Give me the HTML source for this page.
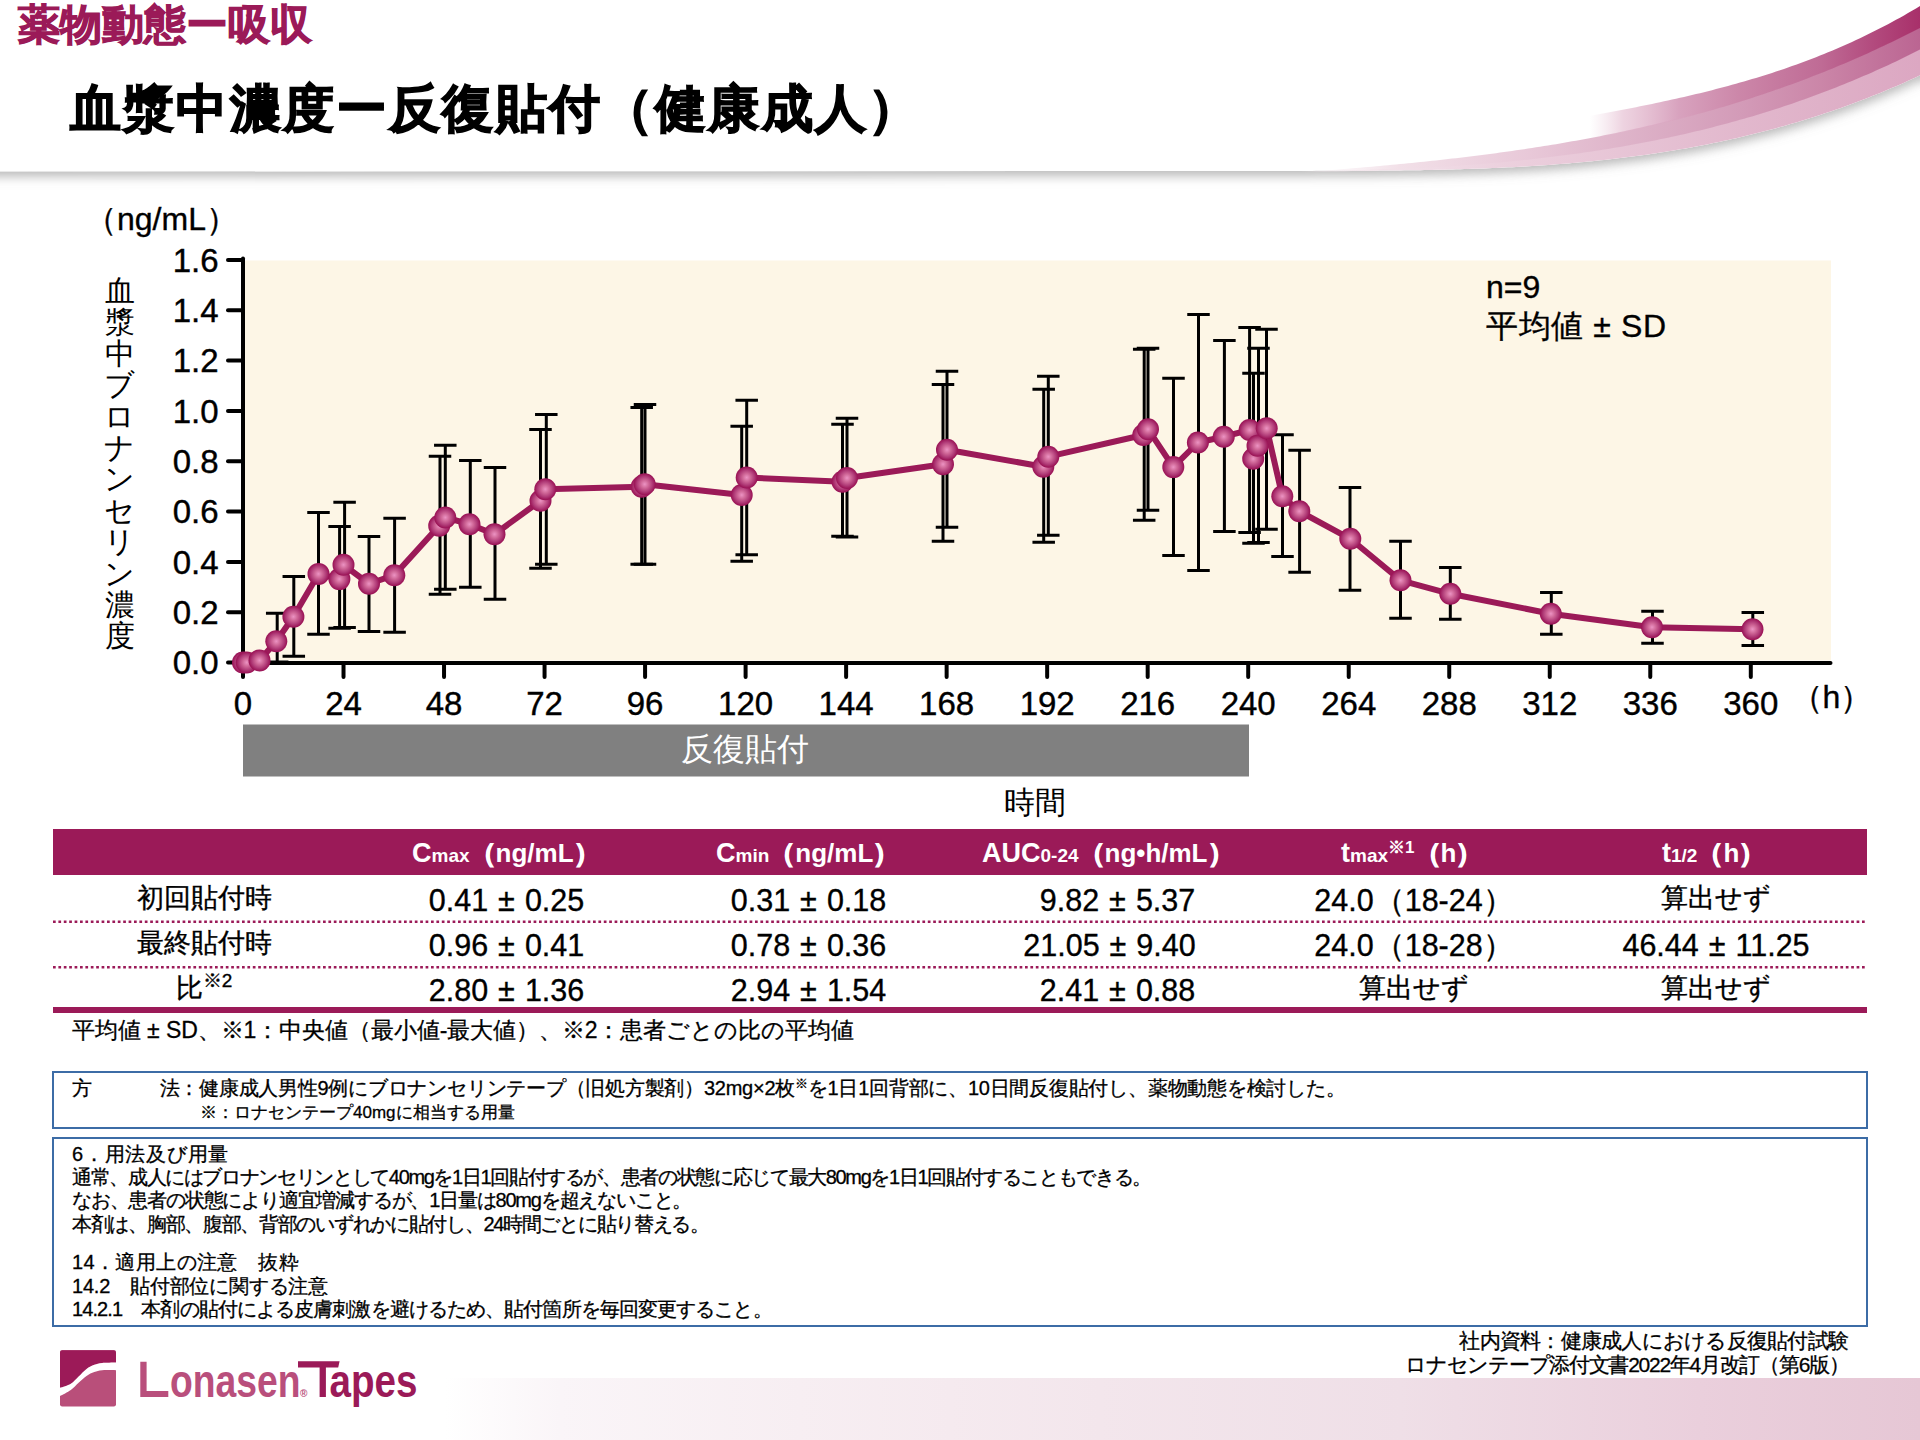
<!DOCTYPE html>
<html lang="ja">
<head>
<meta charset="utf-8">
<style>
html,body{margin:0;padding:0;}
body{width:1920px;height:1440px;position:relative;overflow:hidden;background:#fff;font-family:"Liberation Sans",sans-serif;color:#000;}
.a{position:absolute;white-space:nowrap;line-height:1;}
.t3{-webkit-text-stroke:0.3px #000;}
.hd{font-size:26px;}
.hd .big{font-size:27px;}
.hd .sm{font-size:19px;}
.hd .pp{-webkit-text-stroke:1.3px #fff;}
.hd sup{font-size:17px;vertical-align:9px;line-height:0;}
.cell{width:300px;text-align:center;font-size:30.5px;padding-top:1.5px;-webkit-text-stroke:0.35px #000;}
.cj{font-size:26.5px;padding-top:2px;}
.pm{margin:0 10px;}
.cell sup{font-size:19px;vertical-align:10px;line-height:0;}
sup.s2{font-size:13px;vertical-align:7px;line-height:0;}
.box{border:2px solid #3c6ca6;}
.vl span{display:block;height:31.4px;width:33px;text-align:center;font-size:30px;line-height:31.4px;}
</style>
</head>
<body>
<svg class="a" style="left:0;top:0" width="1920" height="210" viewBox="0 0 1920 210">
<defs><linearGradient id="g0" gradientUnits="userSpaceOnUse" x1="1590" y1="0" x2="1920" y2="0"><stop offset="0" stop-color="#e8c6d7" stop-opacity="0"/><stop offset="0.1" stop-color="#e2b6cc" stop-opacity="0.6"/><stop offset="0.27" stop-color="#d8a2be"/><stop offset="0.45" stop-color="#cc87a9"/><stop offset="0.7" stop-color="#bf6b95"/><stop offset="0.85" stop-color="#b34c7f"/><stop offset="1" stop-color="#a8306a"/></linearGradient><linearGradient id="g1" gradientUnits="userSpaceOnUse" x1="1300" y1="0" x2="1920" y2="0"><stop offset="0" stop-color="#f6e9ef" stop-opacity="0"/><stop offset="0.16" stop-color="#f2e0e8"/><stop offset="0.37" stop-color="#e8c8d8"/><stop offset="0.56" stop-color="#dcafc6"/><stop offset="0.71" stop-color="#d39bb8"/><stop offset="0.84" stop-color="#cb86a8"/><stop offset="1" stop-color="#bb6592"/></linearGradient><linearGradient id="g2" gradientUnits="userSpaceOnUse" x1="1300" y1="0" x2="1920" y2="0"><stop offset="0" stop-color="#f8eef3" stop-opacity="0"/><stop offset="0.13" stop-color="#f3e3eb"/><stop offset="0.32" stop-color="#ecd1de"/><stop offset="0.56" stop-color="#e6c2d4"/><stop offset="0.71" stop-color="#e2b8cd"/><stop offset="0.84" stop-color="#dfb1c8"/><stop offset="1" stop-color="#dca7c2"/></linearGradient><filter id="ds" x="-5%" y="-20%" width="110%" height="150%"><feDropShadow dx="0" dy="5" stdDeviation="5.5" flood-color="#808080" flood-opacity="0.55"/></filter></defs>
<path d="M-40 -20 H1940 V75.34 L1920 75.34 L1920 75.34 L1916 77.2 L1912 79.04 L1908 80.85 L1904 82.64 L1900 84.41 L1896 86.15 L1892 87.87 L1888 89.56 L1884 91.23 L1880 92.88 L1876 94.51 L1872 96.11 L1868 97.69 L1864 99.25 L1860 100.78 L1856 102.29 L1852 103.78 L1848 105.25 L1844 106.7 L1840 108.13 L1836 109.53 L1832 110.91 L1828 112.27 L1824 113.61 L1820 114.93 L1816 116.23 L1812 117.51 L1808 118.77 L1804 120.01 L1800 121.23 L1796 122.43 L1792 123.61 L1788 124.77 L1784 125.91 L1780 127.03 L1776 128.13 L1772 129.22 L1768 130.28 L1764 131.33 L1760 132.36 L1756 133.37 L1752 134.36 L1748 135.33 L1744 136.29 L1740 137.23 L1736 138.15 L1732 139.06 L1728 139.94 L1724 140.82 L1720 141.67 L1716 142.51 L1712 143.33 L1708 144.13 L1704 144.92 L1700 145.7 L1696 146.45 L1692 147.2 L1688 147.92 L1684 148.64 L1680 149.33 L1676 150.01 L1672 150.68 L1668 151.33 L1664 151.97 L1660 152.59 L1656 153.2 L1652 153.8 L1648 154.38 L1644 154.95 L1640 155.51 L1636 156.05 L1632 156.58 L1628 157.09 L1624 157.59 L1620 158.09 L1616 158.56 L1612 159.03 L1608 159.48 L1604 159.92 L1600 160.35 L1596 160.77 L1592 161.18 L1588 161.57 L1584 161.96 L1580 162.33 L1576 162.7 L1572 163.05 L1568 163.39 L1564 163.72 L1560 164.04 L1556 164.35 L1552 164.65 L1548 164.94 L1544 165.23 L1540 165.5 L1536 165.76 L1532 166.02 L1528 166.26 L1524 166.5 L1520 166.73 L1516 166.95 L1512 167.16 L1508 167.36 L1504 167.56 L1500 167.75 L1496 167.93 L1492 168.1 L1488 168.27 L1484 168.42 L1480 168.58 L1476 168.72 L1472 168.86 L1468 168.99 L1464 169.12 L1460 169.24 L1456 169.35 L1452 169.46 L1448 169.56 L1444 169.66 L1440 169.75 L1436 169.84 L1432 169.92 L1428 170.0 L1424 170.07 L1420 170.14 L1416 170.2 L1412 170.26 L1408 170.32 L1404 170.37 L1400 170.42 L1396 170.46 L1392 170.5 L1388 170.54 L1384 170.58 L1380 170.61 L1376 170.64 L1372 170.67 L1368 170.69 L1364 170.71 L1360 170.73 L1356 170.75 L1352 170.77 L1348 170.78 L1344 170.8 L1340 170.81 L1336 170.82 L1332 170.83 L1328 170.85 L1324 170.85 L1320 170.86 L1316 170.87 L1312 170.88 L1308 170.89 L1304 170.9 L1300 170.91 L-40 171.5 Z" fill="#fff" filter="url(#ds)"/>
<path d="M1300 171.5 L1304 171.5 L1308 171.5 L1312 171.5 L1316 171.41 L1320 171.3 L1324 171.19 L1328 171.08 L1332 170.96 L1336 170.84 L1340 170.71 L1344 170.58 L1348 170.45 L1352 170.32 L1356 170.18 L1360 170.04 L1364 169.89 L1368 169.74 L1372 169.59 L1376 169.43 L1380 169.26 L1384 169.1 L1388 168.92 L1392 168.75 L1396 168.56 L1400 168.38 L1404 168.18 L1408 167.98 L1412 167.78 L1416 167.57 L1420 167.36 L1424 167.13 L1428 166.91 L1432 166.67 L1436 166.43 L1440 166.19 L1444 165.93 L1448 165.67 L1452 165.4 L1456 165.13 L1460 164.85 L1464 164.56 L1468 164.26 L1472 163.96 L1476 163.65 L1480 163.33 L1484 163.0 L1488 162.66 L1492 162.32 L1496 161.97 L1500 161.61 L1504 161.24 L1508 160.86 L1512 160.47 L1516 160.07 L1520 159.67 L1524 159.25 L1528 158.83 L1532 158.39 L1536 157.95 L1540 157.49 L1544 157.03 L1548 156.55 L1552 156.07 L1556 155.57 L1560 155.07 L1564 154.55 L1568 154.02 L1572 153.48 L1576 152.93 L1580 152.37 L1584 151.8 L1588 151.21 L1592 150.62 L1596 150.01 L1600 149.39 L1604 148.76 L1608 148.11 L1612 147.46 L1616 146.79 L1620 146.1 L1624 145.41 L1628 144.7 L1632 143.98 L1636 143.25 L1640 142.5 L1644 141.74 L1648 140.96 L1652 140.17 L1656 139.37 L1660 138.55 L1664 137.72 L1668 136.88 L1672 136.02 L1676 135.14 L1680 134.26 L1684 133.35 L1688 132.43 L1692 131.5 L1696 130.55 L1700 129.59 L1704 128.6 L1708 127.61 L1712 126.6 L1716 125.57 L1720 124.53 L1724 123.47 L1728 122.39 L1732 121.3 L1736 120.19 L1740 119.06 L1744 117.92 L1748 116.76 L1752 115.58 L1756 114.38 L1760 113.17 L1764 111.94 L1768 110.69 L1772 109.43 L1776 108.15 L1780 106.84 L1784 105.52 L1788 104.19 L1792 102.83 L1796 101.45 L1800 100.06 L1804 98.64 L1808 97.21 L1812 95.76 L1816 94.29 L1820 92.8 L1824 91.29 L1828 89.76 L1832 88.21 L1836 86.64 L1840 85.05 L1844 83.44 L1848 81.8 L1852 80.15 L1856 78.48 L1860 76.79 L1864 75.07 L1868 73.34 L1872 71.58 L1876 69.8 L1880 68.0 L1884 66.18 L1888 64.33 L1892 62.47 L1896 60.58 L1900 58.67 L1904 56.74 L1908 54.78 L1912 52.81 L1916 50.81 L1920 48.78 L1920 75.34 L1916 77.2 L1912 79.04 L1908 80.85 L1904 82.64 L1900 84.41 L1896 86.15 L1892 87.87 L1888 89.56 L1884 91.23 L1880 92.88 L1876 94.51 L1872 96.11 L1868 97.69 L1864 99.25 L1860 100.78 L1856 102.29 L1852 103.78 L1848 105.25 L1844 106.7 L1840 108.13 L1836 109.53 L1832 110.91 L1828 112.27 L1824 113.61 L1820 114.93 L1816 116.23 L1812 117.51 L1808 118.77 L1804 120.01 L1800 121.23 L1796 122.43 L1792 123.61 L1788 124.77 L1784 125.91 L1780 127.03 L1776 128.13 L1772 129.22 L1768 130.28 L1764 131.33 L1760 132.36 L1756 133.37 L1752 134.36 L1748 135.33 L1744 136.29 L1740 137.23 L1736 138.15 L1732 139.06 L1728 139.94 L1724 140.82 L1720 141.67 L1716 142.51 L1712 143.33 L1708 144.13 L1704 144.92 L1700 145.7 L1696 146.45 L1692 147.2 L1688 147.92 L1684 148.64 L1680 149.33 L1676 150.01 L1672 150.68 L1668 151.33 L1664 151.97 L1660 152.59 L1656 153.2 L1652 153.8 L1648 154.38 L1644 154.95 L1640 155.51 L1636 156.05 L1632 156.58 L1628 157.09 L1624 157.59 L1620 158.09 L1616 158.56 L1612 159.03 L1608 159.48 L1604 159.92 L1600 160.35 L1596 160.77 L1592 161.18 L1588 161.57 L1584 161.96 L1580 162.33 L1576 162.7 L1572 163.05 L1568 163.39 L1564 163.72 L1560 164.04 L1556 164.35 L1552 164.65 L1548 164.94 L1544 165.23 L1540 165.5 L1536 165.76 L1532 166.02 L1528 166.26 L1524 166.5 L1520 166.73 L1516 166.95 L1512 167.16 L1508 167.36 L1504 167.56 L1500 167.75 L1496 167.93 L1492 168.1 L1488 168.27 L1484 168.42 L1480 168.58 L1476 168.72 L1472 168.86 L1468 168.99 L1464 169.12 L1460 169.24 L1456 169.35 L1452 169.46 L1448 169.56 L1444 169.66 L1440 169.75 L1436 169.84 L1432 169.92 L1428 170.0 L1424 170.07 L1420 170.14 L1416 170.2 L1412 170.26 L1408 170.32 L1404 170.37 L1400 170.42 L1396 170.46 L1392 170.5 L1388 170.54 L1384 170.58 L1380 170.61 L1376 170.64 L1372 170.67 L1368 170.69 L1364 170.71 L1360 170.73 L1356 170.75 L1352 170.77 L1348 170.78 L1344 170.8 L1340 170.81 L1336 170.82 L1332 170.83 L1328 170.85 L1324 170.85 L1320 170.86 L1316 170.87 L1312 170.88 L1308 170.89 L1304 170.9 L1300 170.91 Z" fill="url(#g2)"/>
<path d="M1300 171.5 L1304 171.5 L1308 171.5 L1312 171.5 L1316 171.25 L1320 170.94 L1324 170.63 L1328 170.32 L1332 170.0 L1336 169.68 L1340 169.36 L1344 169.03 L1348 168.7 L1352 168.37 L1356 168.04 L1360 167.7 L1364 167.35 L1368 167.01 L1372 166.66 L1376 166.3 L1380 165.94 L1384 165.58 L1388 165.21 L1392 164.84 L1396 164.46 L1400 164.08 L1404 163.69 L1408 163.3 L1412 162.9 L1416 162.5 L1420 162.09 L1424 161.68 L1428 161.26 L1432 160.84 L1436 160.41 L1440 159.97 L1444 159.53 L1448 159.08 L1452 158.62 L1456 158.16 L1460 157.69 L1464 157.22 L1468 156.74 L1472 156.25 L1476 155.75 L1480 155.25 L1484 154.73 L1488 154.22 L1492 153.69 L1496 153.15 L1500 152.61 L1504 152.06 L1508 151.5 L1512 150.94 L1516 150.36 L1520 149.78 L1524 149.19 L1528 148.59 L1532 147.98 L1536 147.36 L1540 146.73 L1544 146.09 L1548 145.45 L1552 144.79 L1556 144.13 L1560 143.45 L1564 142.76 L1568 142.07 L1572 141.36 L1576 140.65 L1580 139.92 L1584 139.19 L1588 138.44 L1592 137.68 L1596 136.91 L1600 136.13 L1604 135.34 L1608 134.54 L1612 133.72 L1616 132.9 L1620 132.06 L1624 131.21 L1628 130.35 L1632 129.48 L1636 128.6 L1640 127.7 L1644 126.79 L1648 125.87 L1652 124.94 L1656 123.99 L1660 123.03 L1664 122.06 L1668 121.07 L1672 120.07 L1676 119.06 L1680 118.03 L1684 117.0 L1688 115.94 L1692 114.88 L1696 113.79 L1700 112.7 L1704 111.59 L1708 110.47 L1712 109.33 L1716 108.18 L1720 107.01 L1724 105.83 L1728 104.63 L1732 103.42 L1736 102.19 L1740 100.95 L1744 99.69 L1748 98.41 L1752 97.12 L1756 95.82 L1760 94.5 L1764 93.16 L1768 91.81 L1772 90.44 L1776 89.05 L1780 87.65 L1784 86.23 L1788 84.79 L1792 83.34 L1796 81.87 L1800 80.38 L1804 78.87 L1808 77.35 L1812 75.81 L1816 74.25 L1820 72.68 L1824 71.09 L1828 69.47 L1832 67.84 L1836 66.2 L1840 64.53 L1844 62.84 L1848 61.14 L1852 59.42 L1856 57.68 L1860 55.92 L1864 54.14 L1868 52.34 L1872 50.52 L1876 48.68 L1880 46.82 L1884 44.95 L1888 43.05 L1892 41.13 L1896 39.19 L1900 37.24 L1904 35.26 L1908 33.26 L1912 31.24 L1916 29.2 L1920 27.14 L1920 49.58 L1916 51.61 L1912 53.61 L1908 55.58 L1904 57.54 L1900 59.47 L1896 61.379999999999995 L1892 63.269999999999996 L1888 65.13 L1884 66.98 L1880 68.8 L1876 70.6 L1872 72.38 L1868 74.14 L1864 75.86999999999999 L1860 77.59 L1856 79.28 L1852 80.95 L1848 82.6 L1844 84.24 L1840 85.85 L1836 87.44 L1832 89.00999999999999 L1828 90.56 L1824 92.09 L1820 93.6 L1816 95.09 L1812 96.56 L1808 98.00999999999999 L1804 99.44 L1800 100.86 L1796 102.25 L1792 103.63 L1788 104.99 L1784 106.32 L1780 107.64 L1776 108.95 L1772 110.23 L1768 111.49 L1764 112.74 L1760 113.97 L1756 115.17999999999999 L1752 116.38 L1748 117.56 L1744 118.72 L1740 119.86 L1736 120.99 L1732 122.1 L1728 123.19 L1724 124.27 L1720 125.33 L1716 126.36999999999999 L1712 127.39999999999999 L1708 128.41 L1704 129.4 L1700 130.39000000000001 L1696 131.35000000000002 L1692 132.3 L1688 133.23000000000002 L1684 134.15 L1680 135.06 L1676 135.94 L1672 136.82000000000002 L1668 137.68 L1664 138.52 L1660 139.35000000000002 L1656 140.17000000000002 L1652 140.97 L1648 141.76000000000002 L1644 142.54000000000002 L1640 143.3 L1636 144.05 L1632 144.78 L1628 145.5 L1624 146.21 L1620 146.9 L1616 147.59 L1612 148.26000000000002 L1608 148.91000000000003 L1604 149.56 L1600 150.19 L1596 150.81 L1592 151.42000000000002 L1588 152.01000000000002 L1584 152.60000000000002 L1580 153.17000000000002 L1576 153.73000000000002 L1572 154.28 L1568 154.82000000000002 L1564 155.35000000000002 L1560 155.87 L1556 156.37 L1552 156.87 L1548 157.35000000000002 L1544 157.83 L1540 158.29000000000002 L1536 158.75 L1532 159.19 L1528 159.63000000000002 L1524 160.05 L1520 160.47 L1516 160.87 L1512 161.27 L1508 161.66000000000003 L1504 162.04000000000002 L1500 162.41000000000003 L1496 162.77 L1492 163.12 L1488 163.46 L1484 163.8 L1480 164.13000000000002 L1476 164.45000000000002 L1472 164.76000000000002 L1468 165.06 L1464 165.36 L1460 165.65 L1456 165.93 L1452 166.20000000000002 L1448 166.47 L1444 166.73000000000002 L1440 166.99 L1436 167.23000000000002 L1432 167.47 L1428 167.71 L1424 167.93 L1420 168.16000000000003 L1416 168.37 L1412 168.58 L1408 168.78 L1404 168.98000000000002 L1400 169.18 L1396 169.36 L1392 169.55 L1388 169.72 L1384 169.9 L1380 170.06 L1376 170.23000000000002 L1372 170.39000000000001 L1368 170.54000000000002 L1364 170.69 L1360 170.84 L1356 170.98000000000002 L1352 171.12 L1348 171.25 L1344 171.38000000000002 L1340 171.51000000000002 L1336 171.64000000000001 L1332 171.76000000000002 L1328 171.88000000000002 L1324 171.99 L1320 172.10000000000002 L1316 172.21 L1312 172.3 L1308 172.3 L1304 172.3 L1300 172.3 Z" fill="url(#g1)"/>
<path d="M1560 121.49 L1564 120.75 L1568 120.01 L1572 119.28 L1576 118.54 L1580 117.81 L1584 117.07 L1588 116.33 L1592 115.59 L1596 114.84 L1600 114.09 L1604 113.34 L1608 112.59 L1612 111.83 L1616 111.06 L1620 110.29 L1624 109.52 L1628 108.73 L1632 107.95 L1636 107.15 L1640 106.35 L1644 105.54 L1648 104.72 L1652 103.89 L1656 103.05 L1660 102.21 L1664 101.35 L1668 100.49 L1672 99.61 L1676 98.72 L1680 97.82 L1684 96.91 L1688 95.98 L1692 95.04 L1696 94.09 L1700 93.13 L1704 92.15 L1708 91.15 L1712 90.14 L1716 89.12 L1720 88.08 L1724 87.02 L1728 85.95 L1732 84.85 L1736 83.74 L1740 82.62 L1744 81.47 L1748 80.3 L1752 79.12 L1756 77.91 L1760 76.69 L1764 75.44 L1768 74.18 L1772 72.89 L1776 71.58 L1780 70.24 L1784 68.89 L1788 67.51 L1792 66.1 L1796 64.67 L1800 63.22 L1804 61.74 L1808 60.24 L1812 58.71 L1816 57.16 L1820 55.58 L1824 53.97 L1828 52.33 L1832 50.66 L1836 48.97 L1840 47.25 L1844 45.49 L1848 43.71 L1852 41.9 L1856 40.06 L1860 38.18 L1864 36.28 L1868 34.34 L1872 32.37 L1876 30.37 L1880 28.33 L1884 26.26 L1888 24.16 L1892 22.02 L1896 19.84 L1900 17.63 L1904 15.39 L1908 13.11 L1912 10.79 L1916 8.43 L1920 6.04 L1920 27.94 L1916 30.0 L1912 32.04 L1908 34.059999999999995 L1904 36.059999999999995 L1900 38.04 L1896 39.989999999999995 L1892 41.93 L1888 43.849999999999994 L1884 45.75 L1880 47.62 L1876 49.48 L1872 51.32 L1868 53.14 L1864 54.94 L1860 56.72 L1856 58.48 L1852 60.22 L1848 61.94 L1844 63.64 L1840 65.33 L1836 67.0 L1832 68.64 L1828 70.27 L1824 71.89 L1820 73.48 L1816 75.05 L1812 76.61 L1808 78.14999999999999 L1804 79.67 L1800 81.17999999999999 L1796 82.67 L1792 84.14 L1788 85.59 L1784 87.03 L1780 88.45 L1776 89.85 L1772 91.24 L1768 92.61 L1764 93.96 L1760 95.3 L1756 96.61999999999999 L1752 97.92 L1748 99.21 L1744 100.49 L1740 101.75 L1736 102.99 L1732 104.22 L1728 105.42999999999999 L1724 106.63 L1720 107.81 L1716 108.98 L1712 110.13 L1708 111.27 L1704 112.39 L1700 113.5 L1696 114.59 L1692 115.67999999999999 L1688 116.74 L1684 117.8 L1680 118.83 L1676 119.86 L1672 120.86999999999999 L1668 121.86999999999999 L1664 122.86 L1660 123.83 L1656 124.78999999999999 L1652 125.74 L1648 126.67 L1644 127.59 L1640 128.5 L1636 129.4 L1632 130.28 L1628 131.15 L1624 132.01000000000002 L1620 132.86 L1616 133.70000000000002 L1612 134.52 L1608 135.34 L1604 136.14000000000001 L1600 136.93 L1596 137.71 L1592 138.48000000000002 L1588 139.24 L1584 139.99 L1580 140.72 L1576 141.45000000000002 L1572 142.16000000000003 L1568 142.87 L1564 143.56 L1560 144.25 Z" fill="url(#g0)"/>
</svg>


<svg class="a" style="left:0;top:0" width="1920" height="830" viewBox="0 0 1920 830">
<defs><radialGradient id="ball" cx="0.5" cy="0.5" r="0.5" fx="0.5" fy="0.5"><stop offset="0" stop-color="#ec93c3"/><stop offset="0.35" stop-color="#d06898"/><stop offset="0.7" stop-color="#b03a77"/><stop offset="0.92" stop-color="#9e1a5b"/><stop offset="1" stop-color="#9a1257"/></radialGradient></defs>
<rect x="245" y="260.5" width="1586" height="400" fill="#fdf6e6"/>
<g stroke="#000" stroke-width="4" stroke-linecap="round" fill="none">
<path d="M243 258.5 V677"/>
<path d="M243 663 H1830.5"/>
<path d="M228 662.50 H243"/>
<path d="M228 612.19 H243"/>
<path d="M228 561.88 H243"/>
<path d="M228 511.56 H243"/>
<path d="M228 461.25 H243"/>
<path d="M228 410.94 H243"/>
<path d="M228 360.62 H243"/>
<path d="M228 310.31 H243"/>
<path d="M228 260.00 H243"/>
<path d="M343.52 663 V677"/>
<path d="M444.04 663 V677"/>
<path d="M544.56 663 V677"/>
<path d="M645.08 663 V677"/>
<path d="M745.60 663 V677"/>
<path d="M846.12 663 V677"/>
<path d="M946.64 663 V677"/>
<path d="M1047.16 663 V677"/>
<path d="M1147.68 663 V677"/>
<path d="M1248.20 663 V677"/>
<path d="M1348.72 663 V677"/>
<path d="M1449.24 663 V677"/>
<path d="M1549.76 663 V677"/>
<path d="M1650.28 663 V677"/>
<path d="M1750.80 663 V677"/>
</g>
<g stroke="#000" stroke-width="3" fill="none">
<path d="M277.2 613.3 V662 M265.95 613.3 H288.45 M265.95 662 H288.45"/>
<path d="M293.8 576.5 V656.25 M282.55 576.5 H305.05 M282.55 656.25 H305.05"/>
<path d="M318.5 512.4 V634.3 M307.25 512.4 H329.75 M307.25 634.3 H329.75"/>
<path d="M339.6 526.5 V628.3 M328.35 526.5 H350.85 M328.35 628.3 H350.85"/>
<path d="M344.6 502.3 V627.5 M333.35 502.3 H355.85 M333.35 627.5 H355.85"/>
<path d="M369 536.4 V631.4 M357.75 536.4 H380.25 M357.75 631.4 H380.25"/>
<path d="M394.6 518.3 V632.2 M383.35 518.3 H405.85 M383.35 632.2 H405.85"/>
<path d="M440 456.3 V594.2 M428.75 456.3 H451.25 M428.75 594.2 H451.25"/>
<path d="M445.3 445.3 V589.2 M434.05 445.3 H456.55 M434.05 589.2 H456.55"/>
<path d="M470.3 460.5 V587.2 M459.05 460.5 H481.55 M459.05 587.2 H481.55"/>
<path d="M495 467.5 V599.2 M483.75 467.5 H506.25 M483.75 599.2 H506.25"/>
<path d="M540.5 429.5 V568.3 M529.25 429.5 H551.75 M529.25 568.3 H551.75"/>
<path d="M546.3 414.5 V564.2 M535.05 414.5 H557.55 M535.05 564.2 H557.55"/>
<path d="M641.7 407.5 V564.2 M630.45 407.5 H652.95 M630.45 564.2 H652.95"/>
<path d="M645 404.5 V564.2 M633.75 404.5 H656.25 M633.75 564.2 H656.25"/>
<path d="M741.7 426.3 V561.3 M730.45 426.3 H752.95 M730.45 561.3 H752.95"/>
<path d="M746.7 400.3 V554.7 M735.45 400.3 H757.95 M735.45 554.7 H757.95"/>
<path d="M842.5 424.3 V536.3 M831.25 424.3 H853.75 M831.25 536.3 H853.75"/>
<path d="M847 418.3 V537 M835.75 418.3 H858.25 M835.75 537 H858.25"/>
<path d="M943 384.5 V541.3 M931.75 384.5 H954.25 M931.75 541.3 H954.25"/>
<path d="M947 371.3 V527.2 M935.75 371.3 H958.25 M935.75 527.2 H958.25"/>
<path d="M1043.7 389.2 V542.2 M1032.45 389.2 H1054.95 M1032.45 542.2 H1054.95"/>
<path d="M1048.3 376.3 V535.3 M1037.05 376.3 H1059.55 M1037.05 535.3 H1059.55"/>
<path d="M1144.2 349.2 V520.3 M1132.95 349.2 H1155.45 M1132.95 520.3 H1155.45"/>
<path d="M1148 348.3 V510.3 M1136.75 348.3 H1159.25 M1136.75 510.3 H1159.25"/>
<path d="M1173.5 378.3 V555.4 M1162.25 378.3 H1184.75 M1162.25 555.4 H1184.75"/>
<path d="M1198.5 314.4 V570.4 M1187.25 314.4 H1209.75 M1187.25 570.4 H1209.75"/>
<path d="M1224.4 340.4 V531.4 M1213.15 340.4 H1235.65 M1213.15 531.4 H1235.65"/>
<path d="M1249.6 327.5 V532.5 M1238.35 327.5 H1260.85 M1238.35 532.5 H1260.85"/>
<path d="M1253.5 373.3 V543.3 M1242.25 373.3 H1264.75 M1242.25 543.3 H1264.75"/>
<path d="M1258.5 348.3 V542.5 M1247.25 348.3 H1269.75 M1247.25 542.5 H1269.75"/>
<path d="M1266.5 329.3 V529.3 M1255.25 329.3 H1277.75 M1255.25 529.3 H1277.75"/>
<path d="M1282.5 434.7 V556.4 M1271.25 434.7 H1293.75 M1271.25 556.4 H1293.75"/>
<path d="M1299.6 450.3 V572.3 M1288.35 450.3 H1310.85 M1288.35 572.3 H1310.85"/>
<path d="M1350 487.5 V590.3 M1338.75 487.5 H1361.25 M1338.75 590.3 H1361.25"/>
<path d="M1400.5 541.3 V618.3 M1389.25 541.3 H1411.75 M1389.25 618.3 H1411.75"/>
<path d="M1450.3 567.5 V619.2 M1439.05 567.5 H1461.55 M1439.05 619.2 H1461.55"/>
<path d="M1551.3 592.5 V634.2 M1540.05 592.5 H1562.55 M1540.05 634.2 H1562.55"/>
<path d="M1652.5 611.3 V643.3 M1641.25 611.3 H1663.75 M1641.25 643.3 H1663.75"/>
<path d="M1752.8 612.5 V645.5 M1741.55 612.5 H1764.05 M1741.55 645.5 H1764.05"/>
</g>
<path d="M243 662.5 L246.75 662.5 L259.5 660.4 L276.3 641.25 L293.4 616.7 L318.5 573.9 L339.4 579.1 L343.5 564.8 L369 583.75 L394.3 575.2 L439.2 525.8 L445.3 517.5 L469.5 524.2 L494.5 534.2 L540.5 500.8 L545.3 489.2 L641.7 486.7 L644.7 484.2 L741.7 495 L746.7 477.5 L842.5 481.7 L847 478 L943 464.2 L947 449.7 L1043.3 466.7 L1048.3 456.7 L1143.3 435 L1148 429.2 L1173.3 467.1 L1197.9 442.5 L1223.75 436.7 L1249.6 430 L1253.2 458.75 L1257.5 445.8 L1266.7 428.3 L1282.3 496.25 L1299.3 511.25 L1350.3 538.8 L1400.5 580.3 L1450.3 593.8 L1550.8 613.7 L1652 627.2 L1752.5 629.2" stroke="#9b1a58" stroke-width="6" fill="none" stroke-linejoin="round"/>
<circle cx="243" cy="662.5" r="11" fill="url(#ball)"/>
<circle cx="246.75" cy="662.5" r="11" fill="url(#ball)"/>
<circle cx="259.5" cy="660.4" r="11" fill="url(#ball)"/>
<circle cx="276.3" cy="641.25" r="11" fill="url(#ball)"/>
<circle cx="293.4" cy="616.7" r="11" fill="url(#ball)"/>
<circle cx="318.5" cy="573.9" r="11" fill="url(#ball)"/>
<circle cx="339.4" cy="579.1" r="11" fill="url(#ball)"/>
<circle cx="343.5" cy="564.8" r="11" fill="url(#ball)"/>
<circle cx="369" cy="583.75" r="11" fill="url(#ball)"/>
<circle cx="394.3" cy="575.2" r="11" fill="url(#ball)"/>
<circle cx="439.2" cy="525.8" r="11" fill="url(#ball)"/>
<circle cx="445.3" cy="517.5" r="11" fill="url(#ball)"/>
<circle cx="469.5" cy="524.2" r="11" fill="url(#ball)"/>
<circle cx="494.5" cy="534.2" r="11" fill="url(#ball)"/>
<circle cx="540.5" cy="500.8" r="11" fill="url(#ball)"/>
<circle cx="545.3" cy="489.2" r="11" fill="url(#ball)"/>
<circle cx="641.7" cy="486.7" r="11" fill="url(#ball)"/>
<circle cx="644.7" cy="484.2" r="11" fill="url(#ball)"/>
<circle cx="741.7" cy="495" r="11" fill="url(#ball)"/>
<circle cx="746.7" cy="477.5" r="11" fill="url(#ball)"/>
<circle cx="842.5" cy="481.7" r="11" fill="url(#ball)"/>
<circle cx="847" cy="478" r="11" fill="url(#ball)"/>
<circle cx="943" cy="464.2" r="11" fill="url(#ball)"/>
<circle cx="947" cy="449.7" r="11" fill="url(#ball)"/>
<circle cx="1043.3" cy="466.7" r="11" fill="url(#ball)"/>
<circle cx="1048.3" cy="456.7" r="11" fill="url(#ball)"/>
<circle cx="1143.3" cy="435" r="11" fill="url(#ball)"/>
<circle cx="1148" cy="429.2" r="11" fill="url(#ball)"/>
<circle cx="1173.3" cy="467.1" r="11" fill="url(#ball)"/>
<circle cx="1197.9" cy="442.5" r="11" fill="url(#ball)"/>
<circle cx="1223.75" cy="436.7" r="11" fill="url(#ball)"/>
<circle cx="1249.6" cy="430" r="11" fill="url(#ball)"/>
<circle cx="1253.2" cy="458.75" r="11" fill="url(#ball)"/>
<circle cx="1257.5" cy="445.8" r="11" fill="url(#ball)"/>
<circle cx="1266.7" cy="428.3" r="11" fill="url(#ball)"/>
<circle cx="1282.3" cy="496.25" r="11" fill="url(#ball)"/>
<circle cx="1299.3" cy="511.25" r="11" fill="url(#ball)"/>
<circle cx="1350.3" cy="538.8" r="11" fill="url(#ball)"/>
<circle cx="1400.5" cy="580.3" r="11" fill="url(#ball)"/>
<circle cx="1450.3" cy="593.8" r="11" fill="url(#ball)"/>
<circle cx="1550.8" cy="613.7" r="11" fill="url(#ball)"/>
<circle cx="1652" cy="627.2" r="11" fill="url(#ball)"/>
<circle cx="1752.5" cy="629.2" r="11" fill="url(#ball)"/>
<g font-family="Liberation Sans, sans-serif" font-size="33" fill="#000" stroke="#000" stroke-width="0.4">
<text x="218.5" y="674.30" text-anchor="end">0.0</text>
<text x="218.5" y="623.99" text-anchor="end">0.2</text>
<text x="218.5" y="573.67" text-anchor="end">0.4</text>
<text x="218.5" y="523.36" text-anchor="end">0.6</text>
<text x="218.5" y="473.05" text-anchor="end">0.8</text>
<text x="218.5" y="422.74" text-anchor="end">1.0</text>
<text x="218.5" y="372.43" text-anchor="end">1.2</text>
<text x="218.5" y="322.11" text-anchor="end">1.4</text>
<text x="218.5" y="271.80" text-anchor="end">1.6</text>
<text x="243.00" y="715" text-anchor="middle">0</text>
<text x="343.52" y="715" text-anchor="middle">24</text>
<text x="444.04" y="715" text-anchor="middle">48</text>
<text x="544.56" y="715" text-anchor="middle">72</text>
<text x="645.08" y="715" text-anchor="middle">96</text>
<text x="745.60" y="715" text-anchor="middle">120</text>
<text x="846.12" y="715" text-anchor="middle">144</text>
<text x="946.64" y="715" text-anchor="middle">168</text>
<text x="1047.16" y="715" text-anchor="middle">192</text>
<text x="1147.68" y="715" text-anchor="middle">216</text>
<text x="1248.20" y="715" text-anchor="middle">240</text>
<text x="1348.72" y="715" text-anchor="middle">264</text>
<text x="1449.24" y="715" text-anchor="middle">288</text>
<text x="1549.76" y="715" text-anchor="middle">312</text>
<text x="1650.28" y="715" text-anchor="middle">336</text>
<text x="1750.80" y="715" text-anchor="middle">360</text>
</g>
<rect x="243" y="724.5" width="1006" height="52" fill="#808080"/>
</svg>






<div class="a" style="left:53px;top:829px;width:1814px;height:46px;background:#9b1a58"></div>
<svg class="a" style="left:0;top:900px" width="1920" height="120" viewBox="0 900 1920 120"><line x1="53" y1="921.8" x2="1867" y2="921.8" stroke="#9b1a58" stroke-width="2.6" stroke-dasharray="2.7 2.7"/><line x1="53" y1="967.3" x2="1867" y2="967.3" stroke="#9b1a58" stroke-width="2.6" stroke-dasharray="2.7 2.7"/><rect x="53" y="1007" width="1814" height="6" fill="#9b1a58"/></svg>
























<div class="a box" style="left:52px;top:1071px;width:1812px;height:54px;"></div>


<div class="a box" style="left:52px;top:1137px;width:1812px;height:186px;"></div>









<div class="a" style="left:0;top:1378px;width:1920px;height:62px;background:linear-gradient(90deg,rgba(248,240,244,0) 0,rgba(248,240,244,0) 445px,#faf5f8 560px,#f7eef2 800px,#f3e6ec 1100px,#efdfe7 1400px,#eacfdc 1700px,#e6c7d5 1920px)"></div>
<svg class="a" style="left:58px;top:1348px" width="62" height="62" viewBox="0 0 62 62"><defs><clipPath id="lc"><rect x="2" y="2.2" width="56" height="56.2" rx="2.2"/></clipPath></defs><g clip-path="url(#lc)"><rect x="0" y="0" width="62" height="62" fill="#b94f7a"/><path d="M0 40.3 C0.3 40.2 -0.2 40.7 1.9 39.9 C4.0 39.1 9.7 37.6 12.8 35.75 C15.9 33.9 18.0 31.0 20.6 28.5 C23.2 26.0 25.9 22.9 28.5 20.9 C31.1 18.9 33.7 17.7 36.3 16.7 C38.9 15.7 40.5 15.3 44.1 14.9 C47.7 14.5 54.9 14.5 57.9 14.4 C60.9 14.3 61.3 14.4 62 14.4 L62 0 L0 0 Z" fill="#9c1a58"/><path d="M0 40.3 C0.3 40.2 -0.2 40.7 1.9 39.9 C4.0 39.1 9.7 37.6 12.8 35.75 C15.9 33.9 18.0 31.0 20.6 28.5 C23.2 26.0 25.9 22.9 28.5 20.9 C31.1 18.9 33.7 17.7 36.3 16.7 C38.9 15.7 40.5 15.3 44.1 14.9 C47.7 14.5 54.9 14.5 57.9 14.4 C60.9 14.3 61.3 14.4 62 14.4 L62 22.2 C61.3 22.2 60.9 22.2 57.9 22.2 C54.9 22.2 47.7 21.9 44.1 22.2 C40.5 22.5 38.9 23.1 36.3 24 C33.7 24.9 31.1 26.1 28.5 27.9 C25.9 29.7 23.2 32.4 20.6 34.7 C18.0 37.1 15.9 39.8 12.8 42 C9.7 44.2 4.0 47.0 1.9 48 C-0.2 49.0 0.3 48.2 0 48.3 Z" fill="#fff"/></g></svg>
<svg class="a" style="left:120px;top:1340px" width="320" height="80" viewBox="120 1340 320 80"><g font-family="Liberation Sans, sans-serif" font-weight="bold"><path d="M140.3 1361.7 H146.6 V1390.9 H168.3 V1397 H140.3 Z" fill="#b94f7c"/><text x="170" y="1397" font-size="46.5" fill="#b94f7c" textLength="130.5" lengthAdjust="spacingAndGlyphs">onasen</text><text x="300" y="1397" font-size="10" fill="#b94f7c">®</text><path d="M298 1361.3 H339.6 L338.2 1367.6 H325.9 V1397 H319.6 V1367.6 H298 Z" fill="#9b1a58"/><text x="329.5" y="1397" font-size="46.5" fill="#9b1a58" textLength="88" lengthAdjust="spacingAndGlyphs">apes</text></g></svg>

<svg class="a" style="left:0;top:0" width="1920" height="1440" viewBox="0 0 1920 1440">
<g font-family="Liberation Sans, sans-serif" lengthAdjust="spacing">
<text x="18.00" y="38.50" font-size="42" font-weight="700" fill="#9b1a58" stroke="#9b1a58" stroke-width="1" textLength="294.00" lengthAdjust="spacing">薬物動態ー吸収</text>
<text x="70.00" y="126.00" font-size="51" font-weight="700" stroke="#000000" stroke-width="1.5" textLength="849.00" lengthAdjust="spacing">血漿中濃度ー反復貼付（健康成人）</text>
<text x="85.00" y="230.00" font-size="32" stroke="#000000" stroke-width="0.35" textLength="152.94" lengthAdjust="spacing">（ng/mL）</text>
<text x="104.50" y="301.00" font-size="30">血</text>
<text x="104.50" y="332.39" font-size="30">漿</text>
<text x="104.50" y="363.78" font-size="30">中</text>
<text x="104.00" y="395.17" font-size="30">ブ</text>
<text x="104.00" y="426.56" font-size="30">ロ</text>
<text x="104.00" y="457.95" font-size="30">ナ</text>
<text x="104.00" y="489.34" font-size="30">ン</text>
<text x="104.00" y="520.73" font-size="30">セ</text>
<text x="104.00" y="552.12" font-size="30">リ</text>
<text x="104.00" y="583.52" font-size="30">ン</text>
<text x="104.50" y="614.91" font-size="30">濃</text>
<text x="104.50" y="646.30" font-size="30">度</text>
<text x="1486.00" y="298.00" font-size="32" stroke="#000000" stroke-width="0.35" textLength="54.28" lengthAdjust="spacing">n=9</text>
<text x="1486.00" y="336.50" font-size="32" stroke="#000000" stroke-width="0.35" textLength="180.01" lengthAdjust="spacing">平均値 ± SD</text>
<text x="1790.50" y="707.50" font-size="32" stroke="#000000" stroke-width="0.35" textLength="81.80" lengthAdjust="spacing">（h）</text>
<text x="681.00" y="760.00" font-size="32" fill="#ffffff" textLength="128.00" lengthAdjust="spacing">反復貼付</text>
<text x="1004.00" y="813.00" font-size="31" textLength="62.00" lengthAdjust="spacing">時間</text>
<text x="412.00" y="862.00" font-size="27" font-weight="700" fill="#ffffff">C</text>
<text x="431.50" y="862.00" font-size="19" font-weight="700" fill="#ffffff" textLength="38.03" lengthAdjust="spacing">max</text>
<text x="469.53" y="862.00" font-size="26" font-weight="700" fill="#ffffff" stroke="#ffffff" stroke-width="1.3">（</text>
<text x="495.53" y="862.00" font-size="26" font-weight="700" fill="#ffffff" textLength="78.00" lengthAdjust="spacing">ng/mL</text>
<text x="573.53" y="862.00" font-size="26" font-weight="700" fill="#ffffff" stroke="#ffffff" stroke-width="1.3">）</text>
<text x="716.00" y="862.00" font-size="27" font-weight="700" fill="#ffffff">C</text>
<text x="735.50" y="862.00" font-size="19" font-weight="700" fill="#ffffff" textLength="33.78" lengthAdjust="spacing">min</text>
<text x="769.28" y="862.00" font-size="26" font-weight="700" fill="#ffffff" stroke="#ffffff" stroke-width="1.3">（</text>
<text x="795.28" y="862.00" font-size="26" font-weight="700" fill="#ffffff" textLength="78.00" lengthAdjust="spacing">ng/mL</text>
<text x="873.28" y="862.00" font-size="26" font-weight="700" fill="#ffffff" stroke="#ffffff" stroke-width="1.3">）</text>
<text x="982.00" y="862.00" font-size="27" font-weight="700" fill="#ffffff" textLength="58.50" lengthAdjust="spacing">AUC</text>
<text x="1040.50" y="862.00" font-size="19" font-weight="700" fill="#ffffff" textLength="38.03" lengthAdjust="spacing">0-24</text>
<text x="1078.53" y="862.00" font-size="26" font-weight="700" fill="#ffffff" stroke="#ffffff" stroke-width="1.3">（</text>
<text x="1104.53" y="862.00" font-size="26" font-weight="700" fill="#ffffff" textLength="102.98" lengthAdjust="spacing">ng•h/mL</text>
<text x="1207.52" y="862.00" font-size="26" font-weight="700" fill="#ffffff" stroke="#ffffff" stroke-width="1.3">）</text>
<text x="1341.00" y="862.00" font-size="27" font-weight="700" fill="#ffffff">t</text>
<text x="1350.00" y="862.00" font-size="19" font-weight="700" fill="#ffffff" textLength="38.03" lengthAdjust="spacing">max</text>
<text x="1388.03" y="853.00" font-size="17" font-weight="700" fill="#ffffff" textLength="26.47" lengthAdjust="spacing">※1</text>
<text x="1414.50" y="862.00" font-size="26" font-weight="700" fill="#ffffff" stroke="#ffffff" stroke-width="1.3">（</text>
<text x="1440.50" y="862.00" font-size="26" font-weight="700" fill="#ffffff">h</text>
<text x="1456.39" y="862.00" font-size="26" font-weight="700" fill="#ffffff" stroke="#ffffff" stroke-width="1.3">）</text>
<text x="1662.00" y="862.00" font-size="27" font-weight="700" fill="#ffffff">t</text>
<text x="1671.00" y="862.00" font-size="19" font-weight="700" fill="#ffffff" textLength="26.42" lengthAdjust="spacing">1/2</text>
<text x="1697.42" y="862.00" font-size="26" font-weight="700" fill="#ffffff" stroke="#ffffff" stroke-width="1.3">（</text>
<text x="1723.42" y="862.00" font-size="26" font-weight="700" fill="#ffffff">h</text>
<text x="1739.31" y="862.00" font-size="26" font-weight="700" fill="#ffffff" stroke="#ffffff" stroke-width="1.3">）</text>
<text x="136.50" y="907.00" font-size="26.5" stroke="#000000" stroke-width="0.35" textLength="135.00" lengthAdjust="spacing">初回貼付時</text>
<text x="428.75" y="910.50" font-size="30.5" stroke="#000000" stroke-width="0.35" textLength="59.38" lengthAdjust="spacing">0.41</text>
<text x="498.12" y="910.50" font-size="30.5" stroke="#000000" stroke-width="0.35">±</text>
<text x="524.88" y="910.50" font-size="30.5" stroke="#000000" stroke-width="0.35" textLength="59.38" lengthAdjust="spacing">0.25</text>
<text x="730.75" y="910.50" font-size="30.5" stroke="#000000" stroke-width="0.35" textLength="59.38" lengthAdjust="spacing">0.31</text>
<text x="800.12" y="910.50" font-size="30.5" stroke="#000000" stroke-width="0.35">±</text>
<text x="826.88" y="910.50" font-size="30.5" stroke="#000000" stroke-width="0.35" textLength="59.38" lengthAdjust="spacing">0.18</text>
<text x="1039.75" y="910.50" font-size="30.5" stroke="#000000" stroke-width="0.35" textLength="59.38" lengthAdjust="spacing">9.82</text>
<text x="1109.12" y="910.50" font-size="30.5" stroke="#000000" stroke-width="0.35">±</text>
<text x="1135.88" y="910.50" font-size="30.5" stroke="#000000" stroke-width="0.35" textLength="59.38" lengthAdjust="spacing">5.37</text>
<text x="1314.31" y="910.50" font-size="30.5" stroke="#000000" stroke-width="0.35" textLength="199.38" lengthAdjust="spacing">24.0（18-24）</text>
<text x="1661.00" y="907.00" font-size="26.5" stroke="#000000" stroke-width="0.35" textLength="110.00" lengthAdjust="spacing">算出せず</text>
<text x="136.50" y="952.00" font-size="26.5" stroke="#000000" stroke-width="0.35" textLength="135.00" lengthAdjust="spacing">最終貼付時</text>
<text x="428.75" y="955.50" font-size="30.5" stroke="#000000" stroke-width="0.35" textLength="59.38" lengthAdjust="spacing">0.96</text>
<text x="498.12" y="955.50" font-size="30.5" stroke="#000000" stroke-width="0.35">±</text>
<text x="524.88" y="955.50" font-size="30.5" stroke="#000000" stroke-width="0.35" textLength="59.38" lengthAdjust="spacing">0.41</text>
<text x="730.75" y="955.50" font-size="30.5" stroke="#000000" stroke-width="0.35" textLength="59.38" lengthAdjust="spacing">0.78</text>
<text x="800.12" y="955.50" font-size="30.5" stroke="#000000" stroke-width="0.35">±</text>
<text x="826.88" y="955.50" font-size="30.5" stroke="#000000" stroke-width="0.35" textLength="59.38" lengthAdjust="spacing">0.36</text>
<text x="1023.27" y="955.50" font-size="30.5" stroke="#000000" stroke-width="0.35" textLength="76.33" lengthAdjust="spacing">21.05</text>
<text x="1109.59" y="955.50" font-size="30.5" stroke="#000000" stroke-width="0.35">±</text>
<text x="1136.34" y="955.50" font-size="30.5" stroke="#000000" stroke-width="0.35" textLength="59.38" lengthAdjust="spacing">9.40</text>
<text x="1314.31" y="955.50" font-size="30.5" stroke="#000000" stroke-width="0.35" textLength="199.38" lengthAdjust="spacing">24.0（18-28）</text>
<text x="1622.42" y="955.50" font-size="30.5" stroke="#000000" stroke-width="0.35" textLength="76.33" lengthAdjust="spacing">46.44</text>
<text x="1708.75" y="955.50" font-size="30.5" stroke="#000000" stroke-width="0.35">±</text>
<text x="1735.50" y="955.50" font-size="30.5" stroke="#000000" stroke-width="0.35" textLength="74.06" lengthAdjust="spacing">11.25</text>
<text x="175.70" y="997.00" font-size="26.5" stroke="#000000" stroke-width="0.35">比</text>
<text x="202.70" y="987.00" font-size="19" stroke="#000000" stroke-width="0.35" textLength="29.58" lengthAdjust="spacing">※2</text>
<text x="428.75" y="1000.50" font-size="30.5" stroke="#000000" stroke-width="0.35" textLength="59.38" lengthAdjust="spacing">2.80</text>
<text x="498.12" y="1000.50" font-size="30.5" stroke="#000000" stroke-width="0.35">±</text>
<text x="524.88" y="1000.50" font-size="30.5" stroke="#000000" stroke-width="0.35" textLength="59.38" lengthAdjust="spacing">1.36</text>
<text x="730.75" y="1000.50" font-size="30.5" stroke="#000000" stroke-width="0.35" textLength="59.38" lengthAdjust="spacing">2.94</text>
<text x="800.12" y="1000.50" font-size="30.5" stroke="#000000" stroke-width="0.35">±</text>
<text x="826.88" y="1000.50" font-size="30.5" stroke="#000000" stroke-width="0.35" textLength="59.38" lengthAdjust="spacing">1.54</text>
<text x="1039.75" y="1000.50" font-size="30.5" stroke="#000000" stroke-width="0.35" textLength="59.38" lengthAdjust="spacing">2.41</text>
<text x="1109.12" y="1000.50" font-size="30.5" stroke="#000000" stroke-width="0.35">±</text>
<text x="1135.88" y="1000.50" font-size="30.5" stroke="#000000" stroke-width="0.35" textLength="59.38" lengthAdjust="spacing">0.88</text>
<text x="1359.00" y="997.00" font-size="26.5" stroke="#000000" stroke-width="0.35" textLength="110.00" lengthAdjust="spacing">算出せず</text>
<text x="1661.00" y="997.00" font-size="26.5" stroke="#000000" stroke-width="0.35" textLength="110.00" lengthAdjust="spacing">算出せず</text>
<text x="72.00" y="1038.00" font-size="23" stroke="#000000" stroke-width="0.3" textLength="781.64" lengthAdjust="spacing">平均値 ± SD、※1：中央値（最小値-最大値）、※2：患者ごとの比の平均値</text>
<text x="72.00" y="1095.00" font-size="20" stroke="#000000" stroke-width="0.3">方</text>
<text x="159.50" y="1095.00" font-size="20" stroke="#000000" stroke-width="0.3" textLength="635.80" lengthAdjust="spacing">法：健康成人男性9例にブロナンセリンテープ（旧処方製剤）32mg×2枚</text>
<text x="795.06" y="1088.00" font-size="13" stroke="#000000" stroke-width="0.3">※</text>
<text x="807.83" y="1095.00" font-size="20" stroke="#000000" stroke-width="0.3" textLength="537.79" lengthAdjust="spacing">を1日1回背部に、10日間反復貼付し、薬物動態を検討した。</text>
<text x="200.00" y="1118.00" font-size="17" stroke="#000000" stroke-width="0.3" textLength="314.53" lengthAdjust="spacing">※：ロナセンテープ40mgに相当する用量</text>
<text x="72.00" y="1161.00" font-size="20" stroke="#000000" stroke-width="0.3" textLength="156.38" lengthAdjust="spacing">6．用法及び用量</text>
<text x="72.00" y="1184.00" font-size="20" stroke="#000000" stroke-width="0.3" textLength="1080.23" lengthAdjust="spacing">通常、成人にはブロナンセリンとして40mgを1日1回貼付するが、患者の状態に応じて最大80mgを1日1回貼付することもできる。</text>
<text x="72.00" y="1207.00" font-size="20" stroke="#000000" stroke-width="0.3" textLength="620.36" lengthAdjust="spacing">なお、患者の状態により適宜増減するが、1日量は80mgを超えないこと。</text>
<text x="72.00" y="1230.50" font-size="20" stroke="#000000" stroke-width="0.3" textLength="638.05" lengthAdjust="spacing">本剤は、胸部、腹部、背部のいずれかに貼付し、24時間ごとに貼り替える。</text>
<text x="72.00" y="1269.00" font-size="20" stroke="#000000" stroke-width="0.3" textLength="226.65" lengthAdjust="spacing">14．適用上の注意　抜粋</text>
<text x="72.00" y="1292.50" font-size="20" stroke="#000000" stroke-width="0.3" textLength="256.14" lengthAdjust="spacing">14.2　貼付部位に関する注意</text>
<text x="72.00" y="1316.00" font-size="20" stroke="#000000" stroke-width="0.3" textLength="700.51" lengthAdjust="spacing">14.2.1　本剤の貼付による皮膚刺激を避けるため、貼付箇所を毎回変更すること。</text>
<text x="1459.25" y="1348.00" font-size="21" stroke="#000000" stroke-width="0.3" textLength="389.50" lengthAdjust="spacing">社内資料：健康成人における反復貼付試験</text>
<text x="1405.17" y="1372.00" font-size="21" stroke="#000000" stroke-width="0.3" textLength="444.60" lengthAdjust="spacing">ロナセンテープ添付文書2022年4月改訂（第6版）</text>
</g></svg>
</body>
</html>
